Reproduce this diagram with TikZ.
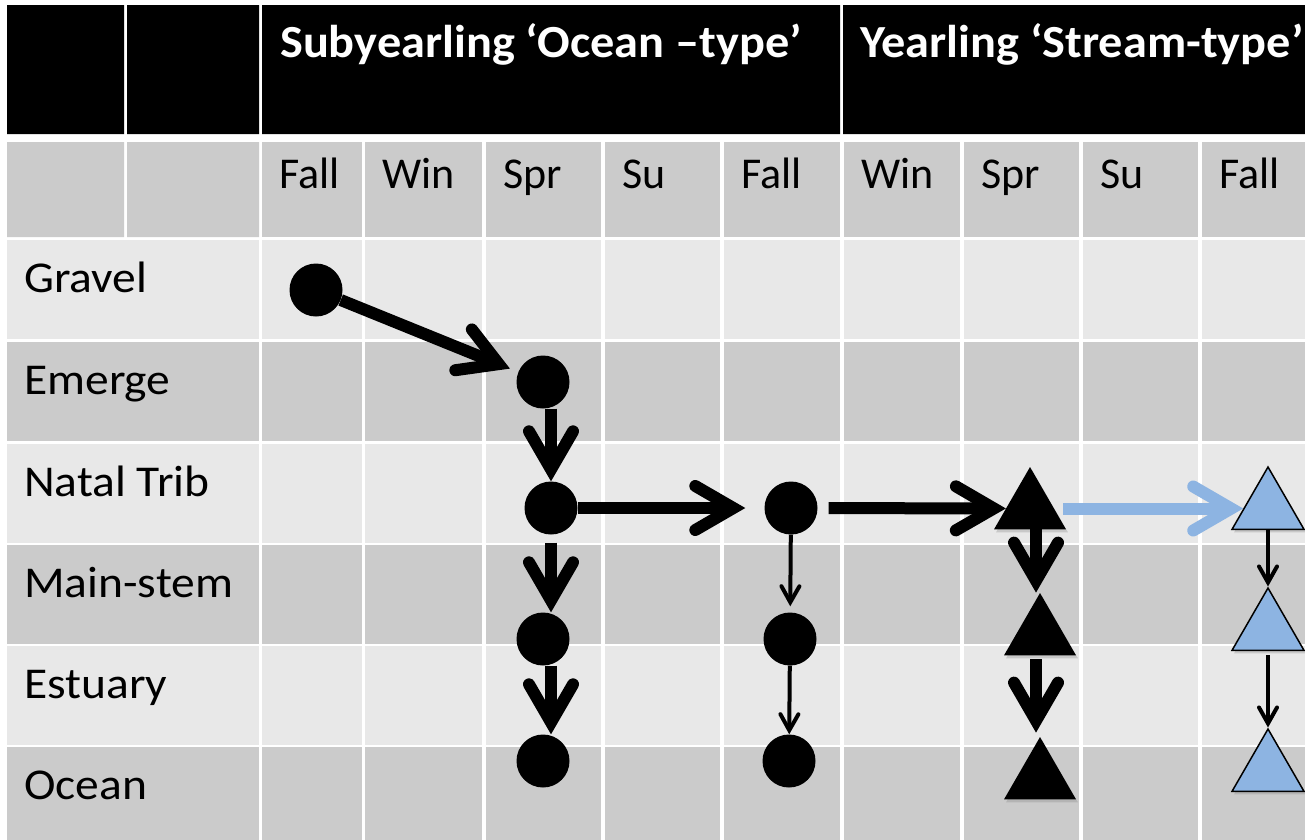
\documentclass[tikz,border=0pt]{standalone}
\usepackage{fontspec}
\setmainfont{Carlito}
\newfontfamily\rowfont{Carlito}[FakeStretch=1.08]
\newfontfamily\headfont{Carlito}[FakeStretch=1.05]
\usetikzlibrary{arrows.meta,positioning,shapes.geometric,shadows}

\definecolor{cellpale}{HTML}{E8E8E8}
\definecolor{celldark}{HTML}{CBCBCB}
\definecolor{streamblue}{HTML}{8DB4E2}

\begin{document}
\begin{tikzpicture}[x=1pt, y=-1pt,
  every node/.append style={inner sep=0},
  lab/.style={anchor=base west, font=\fontsize{44}{48}\selectfont},
  rowlab/.style={lab, font=\rowfont\fontsize{44}{48}\selectfont},
  head/.style={anchor=base west, text=white, font=\headfont\fontsize{46}{50}\selectfont\bfseries},
  fish/.style={circle, fill=black, minimum size=53pt},
  tri/.style={regular polygon, regular polygon sides=3, minimum size=83pt, fill=black,
    drop shadow={shadow xshift=2pt, shadow yshift=-3pt, opacity=.3}},
  bluetri/.style={tri, fill=streamblue, draw=black, line width=1.5pt},
  bigarr/.style={line width=12pt, -{Straight Barb[line cap=round, length=38pt, width=44pt]}},
  thinarr/.style={line width=4pt, -{Straight Barb[line cap=round, length=16pt, width=18pt]}}]
 \useasboundingbox (0,0) rectangle (1305,839);
 \clip (0,0) rectangle (1305,839);

 % header band
 \fill (7,5) rectangle (124,134) (127,5) rectangle (259,134)
       (262,5) rectangle (840,134) (843,5) rectangle (1310,134);
 \node[head] (ocean)  at (280,57) {Subyearling ‘Ocean –type’};
 \node[head] (stream) at (860,57) {Yearling ‘Stream-type’};

 % seasons
 \fill[celldark] (7,142) rectangle (124,237) (127,142) rectangle (259,237);
 \foreach \l/\r/\s [count=\i] in {262/362/Fall, 365/482/Win, 486/601/Spr, 605/720/Su, 724/840/Fall,
                                 844/960/Win, 964/1079/Spr, 1083/1198/Su, 1202/1310/Fall} {
   \fill[celldark] (\l,142) rectangle (\r,237);
   \node[lab] (season\i) at (\l+17,188) {\s};
 }

 % habitat rows
 \foreach \t/\name/\c [count=\i] in {240/Gravel/cellpale, 342/Emerge/celldark, 444/Natal Trib/cellpale,
                                   545/Main-stem/celldark, 646/Estuary/cellpale, 747/Ocean/celldark} {
   \fill[\c] (7,\t) rectangle (259,\t+99);
   \foreach \l/\r in {262/362, 365/482, 486/601, 605/720, 724/840, 844/960, 964/1079, 1083/1198, 1202/1310}
     \fill[\c] (\l,\t) rectangle (\r,\t+99);
   \node[rowlab] (row\i) at (24,\t+52) {\name};
 }

 % subyearlings
 \node[fish] (g1) at (316,290) {};
 \node[fish] (e1) at (543,382) {};
 \node[fish] (n1) at (551,508) {};
 \node[fish] (n2) at (791,508) {};
 \node[fish] (m1) at (543,639) {};
 \node[fish] (m2) at (790,639) {};
 \node[fish] (o1) at (543,761) {};
 \node[fish] (o2) at (789,761) {};
 % yearlings
 \node[tri] (tn) at (1030,508.5) {};
 \node[tri] (tm) at (1040,634.5) {};
 \node[tri] (to) at (1040,778.5) {};
 \node[bluetri] (bn) at (1268,508.5) {};
 \node[bluetri] (bm) at (1268,629.5) {};
 \node[bluetri] (bo) at (1268,770.5) {};
 \coordinate (blackline) at (1036,0);

 \draw[bigarr, shorten >=9pt] (g1) -- (e1);
 \draw[bigarr] (e1.south -| n1) -- (n1.north);
 \draw[bigarr] ([yshift=-8pt]n1.south) -- (n1 |- m1.north);
 \draw[bigarr] (m1.south -| n1) -- (n1 |- o1.north);
 \draw[bigarr, shorten >=19pt] (n1) -- (n2);
 \draw[thinarr, shorten >=6pt] (n2) -- (m2);
 \draw[thinarr] (m2) -- (o2);
 \draw[bigarr, shorten <=11pt] (n2) -- (tn);
 \draw[bigarr] (blackline |- tn.center) -- (blackline |- tm.corner 1);
 \draw[bigarr, shorten <=4pt, shorten >=4pt] (blackline |- tm.corner 2) -- (blackline |- to.corner 1);
 \draw[bigarr, streamblue, shorten <=9pt] (tn) -- (bn);
 \draw[thinarr] (bn) -- (bm);
 \draw[thinarr, shorten <=4pt] (bm) -- (bo);
\end{tikzpicture}
\end{document}
